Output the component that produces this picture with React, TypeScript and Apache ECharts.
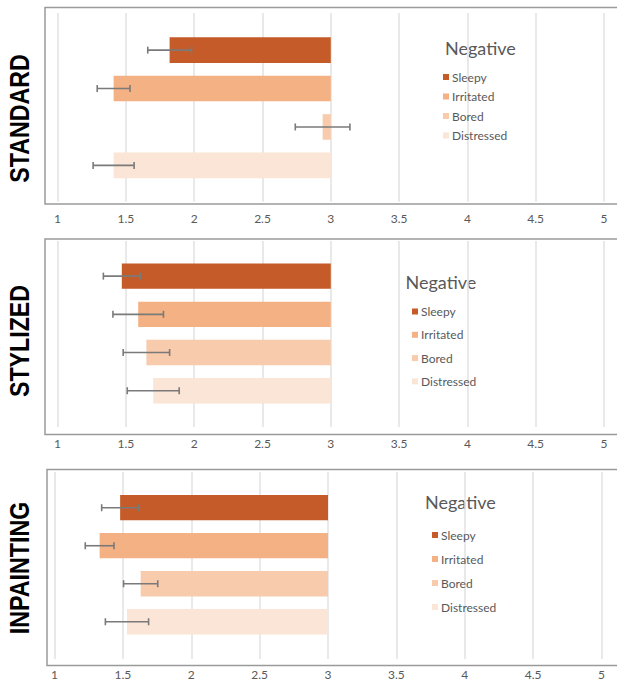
import React, { useEffect, useRef } from "react";
import * as echarts from "echarts";

const categories = ["Sleepy", "Irritated", "Bored", "Distressed"];
const panelNames = ["STANDARD", "STYLIZED", "INPAINTING"];
const colors = ["#C45B29", "#F4B183", "#F8CBAD", "#FBE5D6"];

const standardValues = [1.82, 1.41, 2.94, 1.41];
const standardErrors = [0.16, 0.12, 0.2, 0.15];
const stylizedValues = [1.47, 1.59, 1.65, 1.7];
const stylizedErrors = [0.135, 0.185, 0.17, 0.19];
const inpaintingValues = [1.48, 1.33, 1.63, 1.53];
const inpaintingErrors = [0.135, 0.105, 0.125, 0.158];

const baseline = 3;
const xMin = 1;
const xMax = 5;
const xInterval = 0.5;
const legendTitle = "Negative";

const panelValues = [standardValues, stylizedValues, inpaintingValues];
const panelErrors = [standardErrors, stylizedErrors, inpaintingErrors];

// layout (pixels)
const grids = [
  { left: 57.6, right: 13, top: 13, height: 188.5 },
  { left: 57.6, right: 13, top: 241, height: 186 },
  { left: 54.5, right: 15.5, top: 472, height: 187 },
];
const yRanges = [
  { min: -0.966, max: 3.94 },
  { min: -0.92, max: 3.95 },
  { min: -0.94, max: 3.98 },
];
const frames = [
  { x: 45, y: 7.5, h: 196.5 },
  { x: 45, y: 239, h: 195.5 },
  { x: 47, y: 469.5, h: 196 },
];
const labelMargins = [11, 10, 9];
const legendPos = [
  { left: 443, top: 71, gap: 7.5, tx: 445, ty: 47.5 },
  { left: 412, top: 305.5, gap: 11.3, tx: 405.5, ty: 282 },
  { left: 432, top: 529, gap: 12, tx: 425, ty: 501.5 },
];
const sideLabels = [
  { x: 19.5, y: 118.5 },
  { x: 19.5, y: 341 },
  { x: 19.5, y: 568 },
];

const FONT = "Lato, 'Open Sans', sans-serif";

export default function App() {
  const ref = useRef<HTMLDivElement>(null);

  useEffect(() => {
    if (!ref.current) return;
    const chart = echarts.init(ref.current, undefined, { renderer: "svg" });

    const series: any[] = [];
    panelNames.forEach((_, p) => {
      categories.forEach((cat, c) => {
        const color = colors[c];
        series.push({
          type: "custom",
          name: cat,
          xAxisIndex: p,
          yAxisIndex: p,
          clip: false,
          itemStyle: { color },
          encode: { x: 0, y: 1 },
          data: [[panelValues[p][c], c, panelErrors[p][c]]],
          renderItem: (params: any, api: any) => {
            const v = api.value(0);
            const idx = api.value(1);
            const e = api.value(2);
            const s = api.coord([v, idx]);
            const b = api.coord([baseline, idx]);
            const h = Math.abs(api.size([0, 0.665])[1]);
            const lo = api.coord([v - e, idx]);
            const hi = api.coord([v + e, idx]);
            const cap = 3.5;
            const x0 = Math.min(s[0], b[0]);
            const w = Math.abs(b[0] - s[0]);
            const errStyle = { stroke: "#7a7a7a", lineWidth: 1.6 };
            return {
              type: "group",
              children: [
                {
                  type: "rect",
                  shape: { x: x0, y: s[1] - h / 2, width: w, height: h },
                  style: { fill: color },
                },
                {
                  type: "line",
                  shape: { x1: lo[0], y1: lo[1], x2: hi[0], y2: hi[1] },
                  style: errStyle,
                },
                {
                  type: "line",
                  shape: { x1: lo[0], y1: lo[1] - cap, x2: lo[0], y2: lo[1] + cap },
                  style: errStyle,
                },
                {
                  type: "line",
                  shape: { x1: hi[0], y1: hi[1] - cap, x2: hi[0], y2: hi[1] + cap },
                  style: errStyle,
                },
              ],
            };
          },
        });
      });
    });

    const graphic: any[] = [];
    frames.forEach((f) => {
      graphic.push({
        type: "rect",
        silent: true,
        z: -1,
        shape: { x: f.x, y: f.y, width: 640 - f.x, height: f.h },
        style: { fill: "none", stroke: "#9a9a9a", lineWidth: 1.5 },
      });
    });
    panelNames.forEach((name, p) => {
      graphic.push({
        type: "text",
        x: sideLabels[p].x,
        y: sideLabels[p].y,
        rotation: Math.PI / 2,
        scaleX: 0.86,
        style: {
          text: name,
          fill: "#000",
          font: "bold 27px 'Liberation Sans', Arial, sans-serif",
          align: "center",
          verticalAlign: "middle",
        },
      });
      graphic.push({
        type: "text",
        x: legendPos[p].tx,
        y: legendPos[p].ty,
        style: {
          text: legendTitle,
          fill: "#595959",
          font: `18px ${FONT}`,
          align: "left",
          verticalAlign: "middle",
        },
      });
    });

    const option: any = {
      animation: false,
      backgroundColor: "#fff",
      grid: grids.map((g) => ({ ...g, containLabel: false })),
      xAxis: grids.map((_, p) => ({
        type: "value",
        gridIndex: p,
        min: xMin,
        max: xMax,
        interval: xInterval,
        axisLine: { show: false },
        axisTick: { show: false },
        splitLine: { show: true, lineStyle: { color: "#e2e2e2", width: 1.5 } },
        axisLabel: {
          color: "#595959",
          fontSize: 12,
          fontFamily: FONT,
          margin: labelMargins[p],
          formatter: (v: number) => String(v),
        },
      })),
      yAxis: grids.map((_, p) => ({
        type: "value",
        gridIndex: p,
        inverse: true,
        min: yRanges[p].min,
        max: yRanges[p].max,
        show: false,
        splitLine: { show: false },
      })),
      legend: legendPos.map((l) => ({
        orient: "vertical",
        left: l.left,
        top: l.top,
        padding: 0,
        itemGap: l.gap,
        itemWidth: 6,
        itemHeight: 6,
        icon: "rect",
        selectedMode: false,
        data: categories,
        textStyle: {
          color: "#595959",
          fontSize: 12,
          fontFamily: FONT,
          lineHeight: 12,
          padding: [0, 0, 0, -2],
        },
      })),
      graphic,
      series,
    };

    chart.setOption(option);
    return () => chart.dispose();
  }, []);

  return (
    <div
      ref={ref}
      style={{ position: "absolute", left: 0, top: 0, width: 617, height: 681 }}
    />
  );
}
